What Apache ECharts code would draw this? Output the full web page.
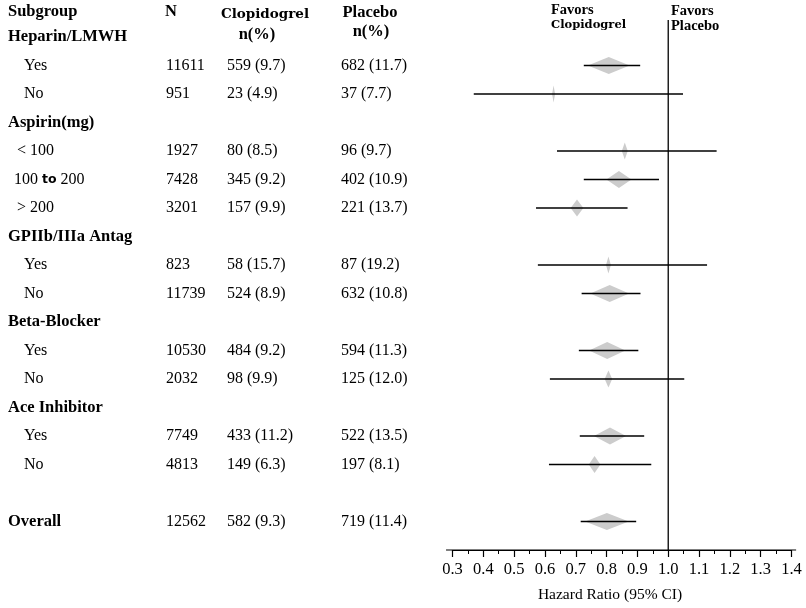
<!DOCTYPE html>
<html><head><meta charset="utf-8">
<script src="https://cdn.jsdelivr.net/npm/echarts@6/dist/echarts.min.js"></script>
<style>html,body{margin:0;padding:0;background:#fff}#c{width:806px;height:608px}</style>
</head><body><div id="c"></div>
<script>
const rowLabels = ['Heparin/LMWH','Yes','No','Aspirin(mg)','< 100','100 to 200','> 200','GPIIb/IIIa Antag','Yes','No','Beta-Blocker','Yes','No','Ace Inhibitor','Yes','No','','Overall'];
const rowIsGroup = [1,0,0,1,0,0,0,1,0,0,1,0,0,1,0,0,0,1];
const nValues     = [null,11611,951,null,1927,7428,3201,null,823,11739,null,10530,2032,null,7749,4813,null,12562];
const clopEvents  = [null,559,23,null,80,345,157,null,58,524,null,484,98,null,433,149,null,582];
const clopPct     = [null,9.7,4.9,null,8.5,9.2,9.9,null,15.7,8.9,null,9.2,9.9,null,11.2,6.3,null,9.3];
const placEvents  = [null,682,37,null,96,402,221,null,87,632,null,594,125,null,522,197,null,719];
const placPct     = [null,11.7,7.7,null,9.7,10.9,13.7,null,19.2,10.8,null,11.3,12.0,null,13.5,8.1,null,11.4];
const hazard      = [null,0.807,0.628,null,0.859,0.840,0.704,null,0.806,0.810,null,0.802,0.806,null,0.811,0.761,null,0.801];
const ciLower     = [null,0.726,0.369,null,0.639,0.726,0.571,null,0.577,0.719,null,0.710,0.616,null,0.713,0.613,null,0.716];
const ciUpper     = [null,0.909,1.048,null,1.157,0.970,0.868,null,1.126,0.910,null,0.903,1.052,null,0.922,0.945,null,0.896];

const SERIF = 'Liberation Serif';
const WIDE = 'DejaVu Serif';

const forestData = [];
hazard.forEach((h, i) => {
  if (h != null) forestData.push([ciLower[i], ciUpper[i], h, i, clopEvents[i] + placEvents[i]]);
});
const textData = rowLabels.map((_, i) => [0.3, i]);

const chart = echarts.init(document.getElementById('c'));
chart.setOption({
  animation: false,
  grid: { left: 452.5, right: 14.5, top: 8.5, bottom: 58 },
  xAxis: {
    type: 'value', min: 0.3, max: 1.4, interval: 0.1,
    axisLine: { show: true, onZero: false, lineStyle: { color: '#000', width: 1.2 } },
    axisTick: { show: true, length: 7, lineStyle: { color: '#000', width: 1.2 } },
    minorTick: { show: true, splitNumber: 2, length: 4, lineStyle: { color: '#000', width: 1 } },
    splitLine: { show: false },
    axisLabel: { margin: 11, color: '#000', fontFamily: SERIF, fontSize: 16.5,
      formatter: v => v.toFixed(1) }
  },
  yAxis: { type: 'value', min: -1, max: 18, inverse: true, show: false },
  graphic: [
    { type: 'text', left: 8, top: 3, style: { text: 'Subgroup', font: 'bold 16.5px ' + SERIF, fill: '#000' } },
    { type: 'text', left: 165, top: 3, style: { text: 'N', font: 'bold 16.5px ' + SERIF, fill: '#000' } },
    { type: 'text', x: 265, y: 14, style: { text: 'Clopidogrel', font: 'bold 13.5px "' + WIDE + '"', fill: '#000', align: 'center', verticalAlign: 'middle' } },
    { type: 'text', x: 257, y: 35, style: { text: 'n(%)', font: 'bold 16.5px ' + SERIF, fill: '#000', align: 'center', verticalAlign: 'middle' } },
    { type: 'text', x: 370, y: 13, style: { text: 'Placebo', font: 'bold 16.5px ' + SERIF, fill: '#000', align: 'center', verticalAlign: 'middle' } },
    { type: 'text', x: 371, y: 32, style: { text: 'n(%)', font: 'bold 16.5px ' + SERIF, fill: '#000', align: 'center', verticalAlign: 'middle' } },
    { type: 'text', x: 551, y: 10.5, style: { text: 'Favors', font: 'bold 14.5px ' + SERIF, fill: '#000', verticalAlign: 'middle' } },
    { type: 'text', x: 551, y: 25, style: { text: 'Clopidogrel', font: 'bold 11.5px "' + WIDE + '"', fill: '#000', verticalAlign: 'middle' } },
    { type: 'text', x: 671, y: 11, style: { text: 'Favors', font: 'bold 14.5px ' + SERIF, fill: '#000', verticalAlign: 'middle' } },
    { type: 'text', x: 671, y: 26, style: { text: 'Placebo', font: 'bold 14.5px ' + SERIF, fill: '#000', verticalAlign: 'middle' } },
    { type: 'text', x: 610, y: 595, style: { text: 'Hazard Ratio (95% CI)', font: '15.5px ' + SERIF, fill: '#000', align: 'center', verticalAlign: 'middle' } }
  ],
  series: [
    {
      type: 'custom', silent: true, clip: false,
      data: [[1.0, -0.6]],
      encode: { x: 0, y: 1 },
      renderItem: (params, api) => {
        const top = api.coord([1.0, api.value(1)]);
        const bot = api.coord([1.0, 18]);
        const l = api.coord([0.279, 18]);
        const r = api.coord([1.415, 18]);
        return { type: 'group', children: [
          { type: 'line', shape: { x1: top[0], y1: top[1], x2: bot[0], y2: bot[1] }, style: { stroke: '#000', lineWidth: 1.3 } },
          { type: 'line', shape: { x1: l[0], y1: l[1], x2: r[0], y2: r[1] }, style: { stroke: '#000', lineWidth: 1.2 } }
        ] };
      }
    },
    {
      type: 'custom', silent: true, clip: false,
      data: forestData,
      encode: { x: [0, 1, 2], y: 3 },
      renderItem: (params, api) => {
        const i = api.value(3);
        const c = api.coord([api.value(2), i]);
        const a = api.coord([api.value(0), i]);
        const b = api.coord([api.value(1), i]);
        const w = Math.max(1.5, api.value(4) * 0.0168);
        const h = 8.5;
        return { type: 'group', children: [
          { type: 'polygon', shape: { points: [[c[0] - w, c[1]], [c[0], c[1] - h], [c[0] + w, c[1]], [c[0], c[1] + h]] }, style: { fill: '#cccccc' } },
          { type: 'line', shape: { x1: a[0], y1: a[1], x2: b[0], y2: b[1] }, style: { stroke: '#000', lineWidth: 1.3 } }
        ] };
      }
    },
    {
      type: 'custom', silent: true, clip: false,
      data: textData,
      encode: { x: 0, y: 1 },
      renderItem: (params, api) => {
        const i = api.value(1);
        const y = api.coord([0.3, i])[1];
        const label = rowLabels[i];
        const group = rowIsGroup[i] === 1;
        const children = [];
        if (label) {
          const x = group ? 8 : (label === 'Yes' || label === 'No' ? 24 : (label === '100 to 200' ? 14 : 17));
          const txt = label === '100 to 200' ? '100 {b|to} 200' : label;
          children.push({ type: 'text', x: x, y: y, style: {
            text: txt, font: (group ? 'bold 16.5px ' : '16px ') + SERIF, fill: '#000', verticalAlign: 'middle',
            rich: { b: { fontFamily: 'DejaVu Sans', fontWeight: 'bold', fontSize: 12.5, fill: '#000' } } } });
        }
        if (nValues[i] != null) {
          children.push({ type: 'text', x: 166, y: y, style: { text: String(nValues[i]), font: '16px ' + SERIF, fill: '#000', verticalAlign: 'middle' } });
          children.push({ type: 'text', x: 227, y: y, style: { text: clopEvents[i] + ' (' + clopPct[i].toFixed(1) + ')', font: '16px ' + SERIF, fill: '#000', verticalAlign: 'middle' } });
          children.push({ type: 'text', x: 341, y: y, style: { text: placEvents[i] + ' (' + placPct[i].toFixed(1) + ')', font: '16px ' + SERIF, fill: '#000', verticalAlign: 'middle' } });
        }
        return { type: 'group', children: children };
      }
    }
  ]
});
</script></body></html>
